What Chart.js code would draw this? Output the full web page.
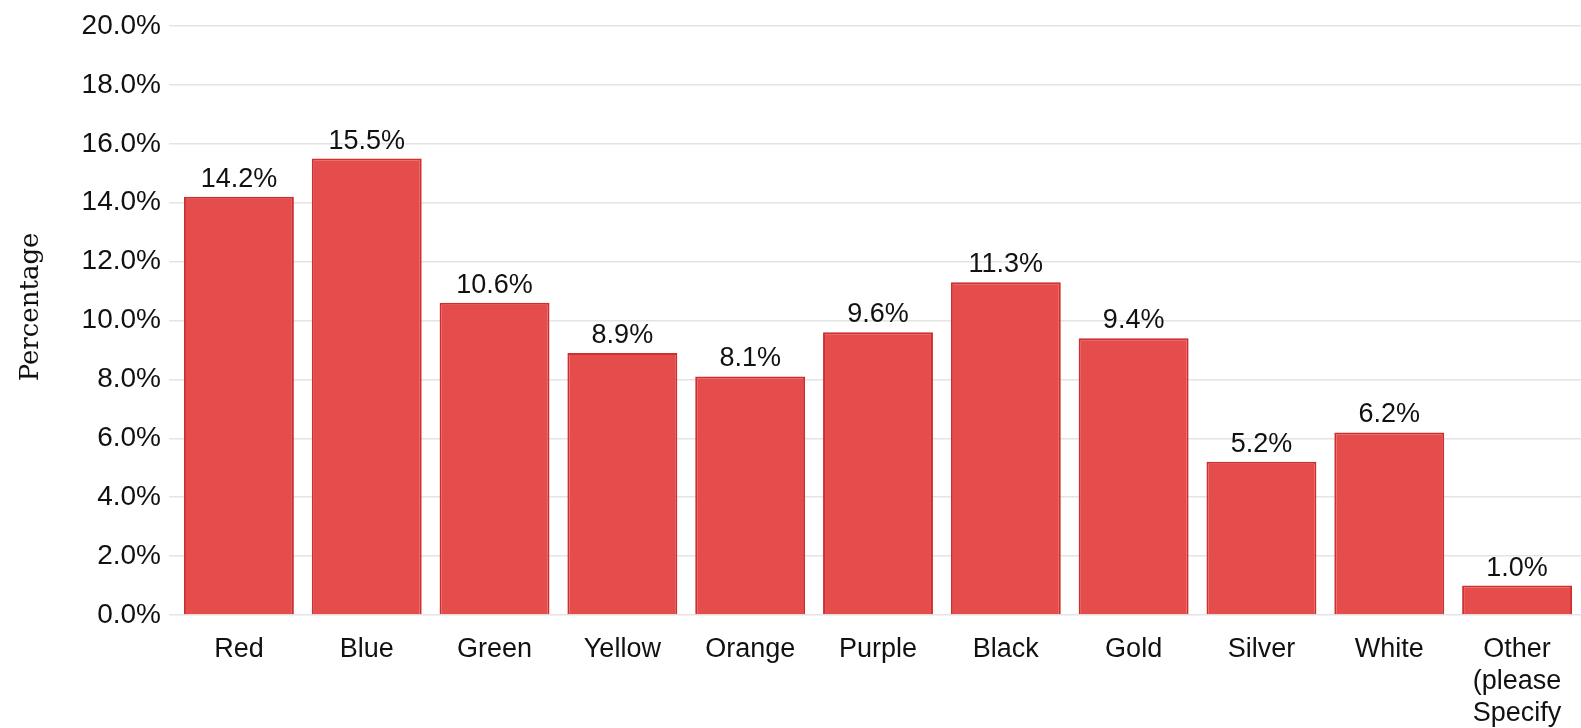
<!DOCTYPE html>
<html>
<head>
<meta charset="utf-8">
<script src="https://cdn.jsdelivr.net/npm/chart.js@4/dist/chart.umd.min.js"></script>
<style>
  html, body { margin: 0; padding: 0; background: #ffffff; }
  #wrap { width: 1581px; height: 728px; position: relative; }
</style>
</head>
<body>
<div id="wrap"><canvas id="chart"></canvas></div>
<script>
// Favourite colour survey: share of responses per colour (%)
const categories = ['Red', 'Blue', 'Green', 'Yellow', 'Orange', 'Purple', 'Black', 'Gold', 'Silver', 'White', ['Other', '(please', 'Specify']];
const percentages = [14.2, 15.5, 10.6, 8.9, 8.1, 9.6, 11.3, 9.4, 5.2, 6.2, 1.0];
const yTicks = [0, 2, 4, 6, 8, 10, 12, 14, 16, 18, 20];
const yTitle = 'Percentage';

const SANS = '"Liberation Sans", Arial, sans-serif';
const TEXT = '#111111';

// Writes the value above each bar
const valueLabels = {
  id: 'valueLabels',
  afterDatasetsDraw(chart) {
    const ctx = chart.ctx;
    const meta = chart.getDatasetMeta(0);
    ctx.save();
    ctx.font = '27px ' + SANS;
    ctx.fillStyle = TEXT;
    ctx.textAlign = 'center';
    ctx.textBaseline = 'alphabetic';
    meta.data.forEach((bar, i) => {
      ctx.fillText(percentages[i].toFixed(1) + '%', bar.x, bar.y - 10);
    });
    ctx.restore();
  }
};

// Rotated y-axis title, set a little above the middle of the plot
const axisTitle = {
  id: 'axisTitle',
  afterDraw(chart) {
    const ctx = chart.ctx;
    const area = chart.chartArea;
    ctx.save();
    ctx.font = '26px "DejaVu Serif", serif';
    ctx.fillStyle = TEXT;
    ctx.textAlign = 'center';
    ctx.textBaseline = 'middle';
    ctx.translate(31, area.top + (area.bottom - area.top) * 0.477);
    ctx.rotate(-Math.PI / 2);
    ctx.fillText(yTitle, 0, 0);
    ctx.restore();
  }
};

new Chart(document.getElementById('chart'), {
  type: 'bar',
  data: {
    labels: categories,
    datasets: [{
      data: percentages,
      backgroundColor: '#e54c4c',
      borderColor: '#cf2e2e',
      borderWidth: 2,
      categoryPercentage: 1.0,
      barPercentage: 0.86
    }]
  },
  options: {
    responsive: true,
    maintainAspectRatio: false,
    animation: false,
    layout: { padding: { top: 26, right: 0, bottom: 0, left: 0 } },
    plugins: {
      legend: { display: false },
      tooltip: { enabled: false }
    },
    scales: {
      x: {
        grid: { display: false },
        border: { display: false },
        ticks: {
          color: TEXT,
          font: { family: SANS, size: 27, lineHeight: 1.2 },
          padding: 10,
          maxRotation: 0,
          autoSkip: false
        },
        afterFit(scale) { scale.height = 113; }
      },
      y: {
        min: 0,
        max: 20,
        afterBuildTicks(scale) { scale.ticks = yTicks.map(v => ({ value: v })); },
        grid: { color: '#e4e4e4', lineWidth: 1.5, tickLength: 6, drawTicks: true },
        border: { display: false },
        ticks: {
          color: TEXT,
          font: { family: SANS, size: 28 },
          padding: 8,
          callback: v => v.toFixed(1) + '%'
        },
        title: { display: false },
        afterFit(scale) { scale.width = 175; }
      }
    }
  },
  plugins: [valueLabels, axisTitle]
});
</script>
</body>
</html>
